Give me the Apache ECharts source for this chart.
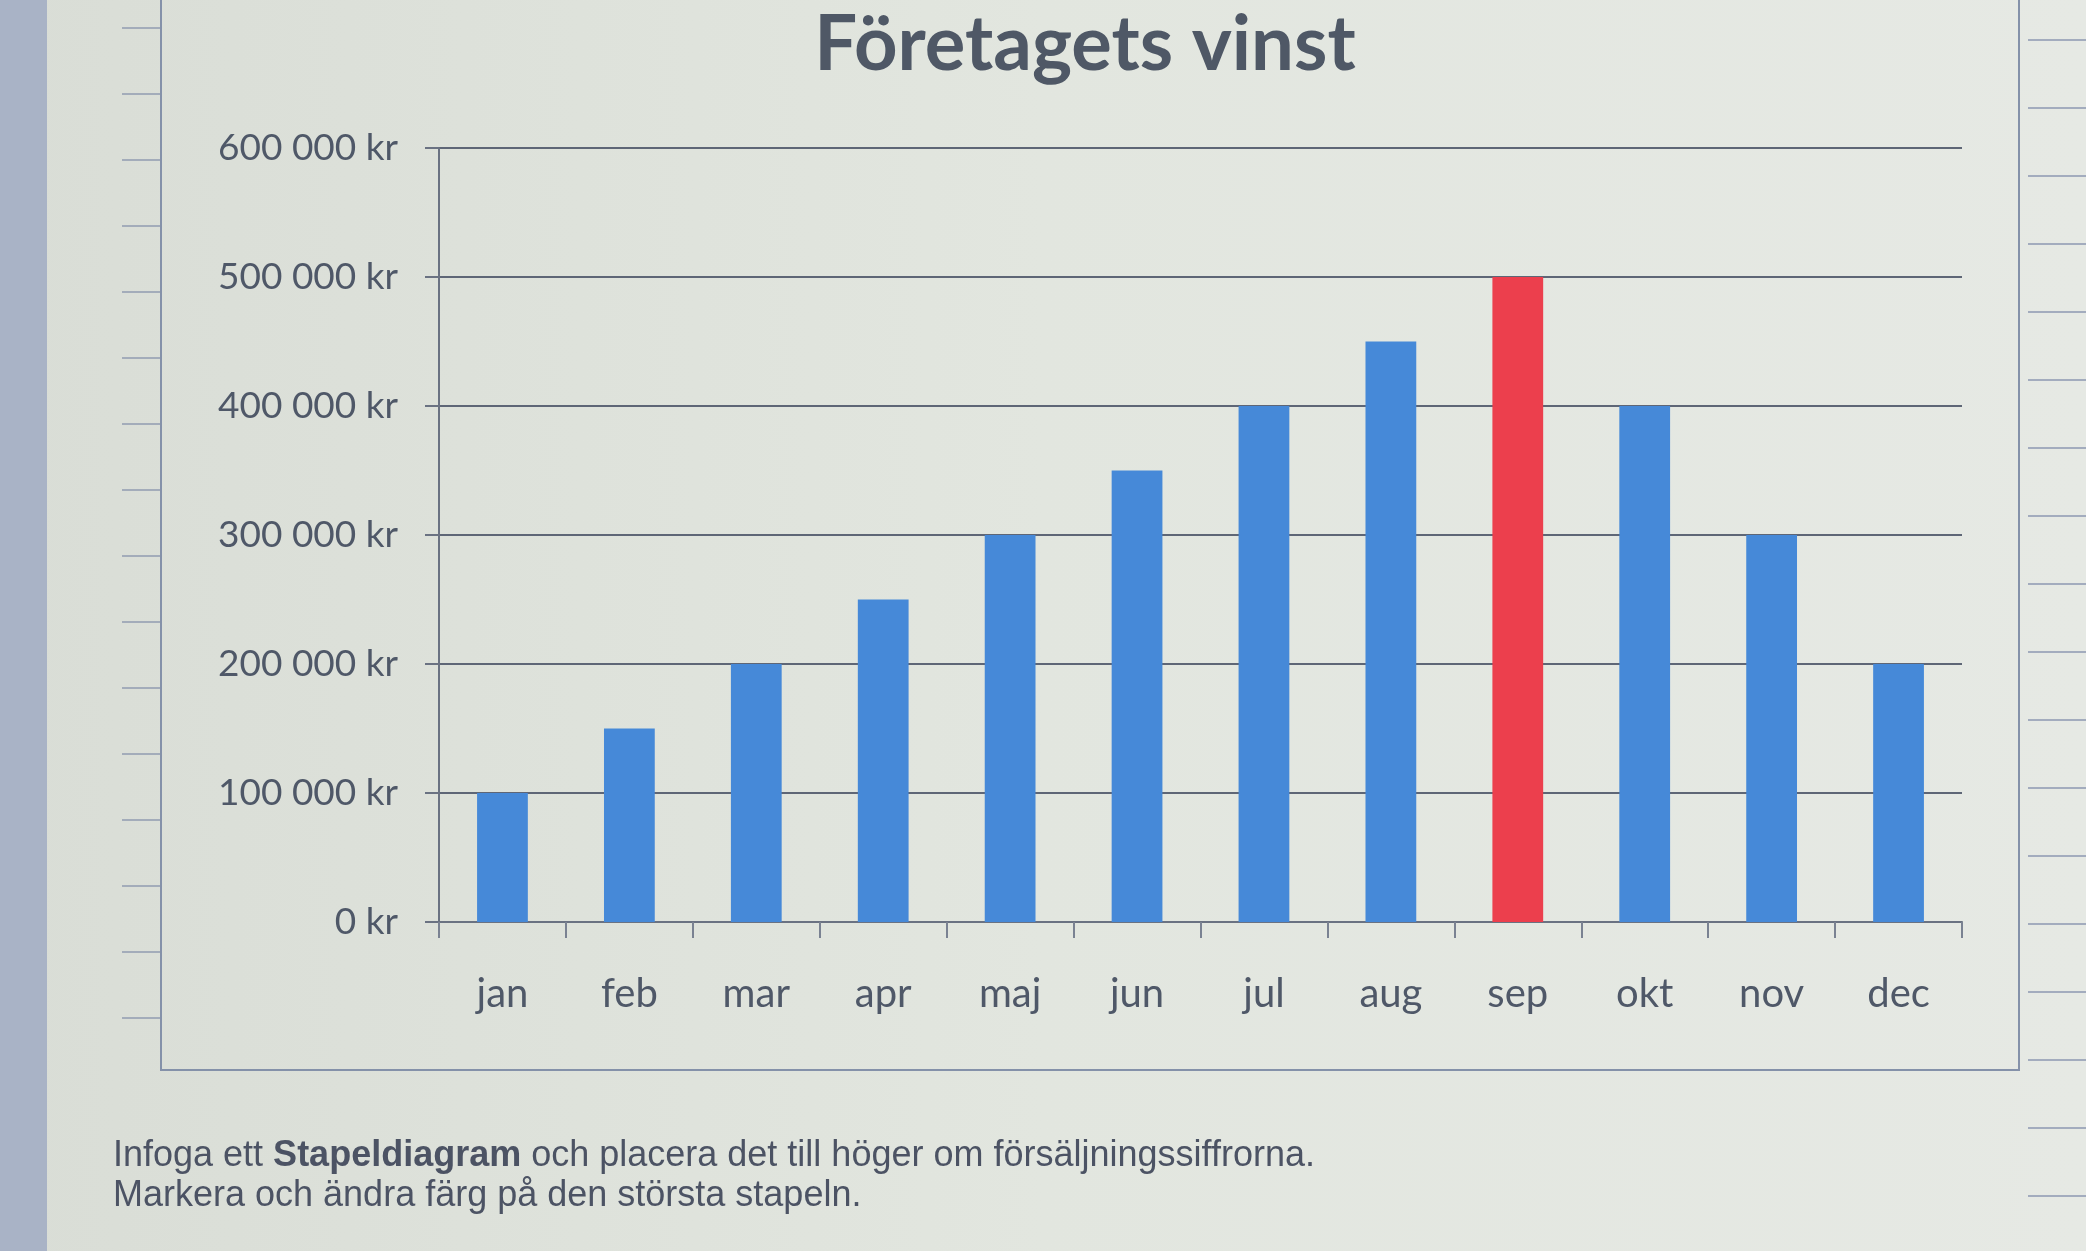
<!DOCTYPE html>
<html>
<head>
<meta charset="utf-8">
<script src="https://cdn.jsdelivr.net/npm/echarts@6/dist/echarts.min.js"></script>
<style>
html,body{margin:0;padding:0;background:#dfe3dc;}
#c{width:2086px;height:1251px;}
</style>
</head>
<body>
<div id="c"></div>
<script>
var titleText = 'Företagets vinst';
var months = ['jan','feb','mar','apr','maj','jun','jul','aug','sep','okt','nov','dec'];
var profit = [100000,150000,200000,250000,300000,350000,400000,450000,500000,400000,300000,200000];
var yTicks = [0,100000,200000,300000,400000,500000,600000];
var noteLine1a = 'Infoga ett ';
var noteLine1b = 'Stapeldiagram';
var noteLine1c = ' och placera det till höger om försäljningssiffrorna.';
var noteLine2 = 'Markera och ändra färg på den största stapeln.';

var maxVal = Math.max.apply(null, profit);
function fmtKr(v){
  return String(v).replace(/\B(?=(\d{3})+(?!\d))/g, ' ') + ' kr';
}
var rowTicksLeft = [], rowTicksRight = [];
for (var y = 28; y < 1060; y += 66) {
  rowTicksLeft.push({type:'line', shape:{x1:122,y1:y,x2:160,y2:y}, style:{stroke:'#a3acba',lineWidth:2}, silent:true});
}
for (var y2 = 40; y2 < 1251; y2 += 68) {
  rowTicksRight.push({type:'line', shape:{x1:2028,y1:y2,x2:2086,y2:y2}, style:{stroke:'#a3acbe',lineWidth:2}, silent:true});
}

var chart = echarts.init(document.getElementById('c'), null, {renderer:'canvas'});
chart.setOption({
  backgroundColor: {
    type:'linear', x:0, y:0, x2:1, y2:0,
    colorStops:[{offset:0,color:'#d9ddd6'},{offset:0.5,color:'#e2e6df'},{offset:1,color:'#e6e9e4'}]
  },
  animation:false,
  title:{
    text:titleText, left:1080, top:2, textAlign:'center',
    textStyle:{fontFamily:'Lato', fontWeight:'bold', fontSize:76, color:'#4f5866'}
  },
  grid:{left:439, right:124, top:148, bottom:329, containLabel:false},
  xAxis:{
    type:'category', data:months, boundaryGap:true,
    axisLine:{show:true, lineStyle:{color:'#6a7282', width:2}},
    axisTick:{show:true, length:16, inside:false, alignWithLabel:false, lineStyle:{color:'#7a8292', width:2}},
    axisLabel:{margin:52, fontFamily:'Lato', fontSize:40, color:'#4f5868'}
  },
  yAxis:{
    type:'value', min:0, max:600000, interval:100000,
    axisLine:{show:true, lineStyle:{color:'#6a7282', width:2}},
    axisTick:{show:true, length:14, lineStyle:{color:'#6a7282', width:2}},
    axisLabel:{margin:41, fontFamily:'Lato', fontSize:37, color:'#4f5868', formatter:function(v){return fmtKr(v);}},
    splitLine:{show:true, lineStyle:{color:'#5e6676', width:2}}
  },
  series:[{
    type:'bar', data:profit, barCategoryGap:'60%',
    itemStyle:{color:function(p){ return p.value === maxVal ? '#ec3f4d' : '#4689d8'; }}
  }],
  graphic:[
    {type:'rect', shape:{x:0,y:0,width:47,height:1251}, style:{fill:'#a9b3c6'}, silent:true},
    {type:'rect', shape:{x:161,y:-10,width:1858,height:1080}, style:{fill:'none', stroke:'#8491a9', lineWidth:2}, silent:true}
  ].concat(rowTicksLeft).concat(rowTicksRight).concat([
    {type:'text', left:113, top:1138, style:{
      text:'{a|'+noteLine1a+'}{b|'+noteLine1b+'}{a|'+noteLine1c+'}',
      rich:{
        a:{fontFamily:'Liberation Sans', fontSize:36, fill:'#4c5364'},
        b:{fontFamily:'Liberation Sans', fontSize:36, fontWeight:'bold', fill:'#4c5364'}
      }
    }},
    {type:'text', left:113, top:1178, style:{text:noteLine2, fontFamily:'Liberation Sans', fontSize:36, fill:'#4c5364'}}
  ])
});
</script>
</body>
</html>
